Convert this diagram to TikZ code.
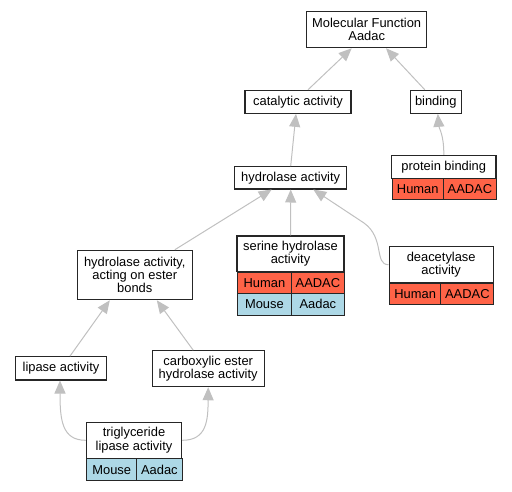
\documentclass[tikz,border=0pt]{standalone}
\usepackage{fontspec}
\setmainfont{Liberation Sans}
\usetikzlibrary{arrows.meta,calc}
\definecolor{hum}{HTML}{FF6347}
\definecolor{mou}{HTML}{ADD8E6}
\definecolor{edgec}{HTML}{C0C0C0}
\tikzset{
  term/.style={draw=black!85, line width=1.1pt, fill=white, align=center, inner sep=0pt,
    font=\fontsize{12.9}{13.3}\selectfont},
  cell/.style={draw=black!85, line width=1.1pt, inner sep=0pt, anchor=north west,
    font=\fontsize{12.9}{13.3}\selectfont},
  link/.style={draw=edgec, line width=1pt, -{Triangle[length=13pt,width=11pt,fill=edgec]}}
}
\begin{document}
\begin{tikzpicture}[x=1pt,y=-1pt]
\useasboundingbox (0,0) rectangle (512,491);
% plain terms
\node[term, minimum width=120pt, minimum height=36pt] (mf) at (366.7,29.7) {Molecular Function\\Aadac};
\node[term, minimum width=106pt, minimum height=23pt] (cat) at (298,101.8) {catalytic activity};
\node[term, minimum width=51pt, minimum height=23pt] (bind) at (435.8,101.8) {binding};
\node[term, minimum width=112pt, minimum height=22.3pt] (hyd) at (290.7,177.8) {hydrolase activity};
\node[term, minimum width=115pt, minimum height=49.4pt] (est) at (134.8,275) {hydrolase activity,\\acting on ester\\bonds};
\node[term, minimum width=91.4pt, minimum height=23.3pt] (lip) at (61,368.3) {lipase activity};
\node[term, minimum width=112.3pt, minimum height=36pt] (carb) at (208.2,368.7) {carboxylic ester\\hydrolase activity};
% protein binding table
\node[term, minimum width=104.3pt, minimum height=23pt] (ph) at (443.8,166.8) {protein binding};
\node[cell, fill=hum, minimum width=51pt, minimum height=21pt] (ph1) at (391.7,178.3) {Human};
\node[cell, fill=hum, minimum width=53.3pt, minimum height=21pt] (ph2) at (442.7,178.3) {AADAC};
% serine hydrolase table
\node[term, minimum width=107pt, minimum height=35.7pt] (sh) at (290.5,253.8) {serine hydrolase\\activity};
\node[cell, fill=hum, minimum width=53.7pt, minimum height=21pt] (sh1) at (237,271.7) {Human};
\node[cell, fill=hum, minimum width=53.3pt, minimum height=21pt] (sh2) at (290.7,271.7) {AADAC};
\node[cell, fill=mou, minimum width=53.7pt, minimum height=22pt] (sh3) at (237,292.7) {Mouse};
\node[cell, fill=mou, minimum width=53.3pt, minimum height=22pt] (sh4) at (290.7,292.7) {Aadac};
% deacetylase table
\node[term, minimum width=104.3pt, minimum height=36pt] (dh) at (441.2,264.7) {deacetylase\\activity};
\node[cell, fill=hum, minimum width=51.3pt, minimum height=21.3pt] (dh1) at (389,282.7) {Human};
\node[cell, fill=hum, minimum width=53pt, minimum height=21.3pt] (dh2) at (440.3,282.7) {AADAC};
% triglyceride table
\node[term, minimum width=95.4pt, minimum height=36pt] (th) at (134,440.3) {triglyceride\\lipase activity};
\node[cell, fill=mou, minimum width=49.7pt, minimum height=21.7pt] (th1) at (86.3,458.3) {Mouse};
\node[cell, fill=mou, minimum width=45.7pt, minimum height=21.7pt] (th2) at (136,458.3) {Aadac};
% connectors
\draw[link] ([xshift=10pt]cat.north) -- ([xshift=-15pt]mf.south);
\draw[link] ([xshift=-11pt]bind.north) -- ([xshift=19.3pt]mf.south);
\draw[link] (ph.north) .. controls (444,135) and (439,128) .. ([xshift=2pt]bind.south);
\draw[link] (hyd.north) -- ([xshift=-2pt]cat.south);
\draw[link] ([xshift=40pt]est.north) -- ([xshift=-19pt]hyd.south);
\draw[link] (sh.north) -- (hyd.south);
\draw[link] (dh.west) .. controls (374,264.7) and (385,238) .. (364,223) -- ([xshift=22.6pt]hyd.south);
\draw[link] ([xshift=9pt]lip.north) -- ([xshift=-25pt]est.south);
\draw[link] ([xshift=-15pt]carb.north) -- ([xshift=22pt]est.south);
\draw[link] (th.west) .. controls (62,440.3) and (60,420) .. ([xshift=-1pt]lip.south);
\draw[link] (th.east) .. controls (207,440.3) and (208,420) .. (carb.south);
\end{tikzpicture}
\end{document}
